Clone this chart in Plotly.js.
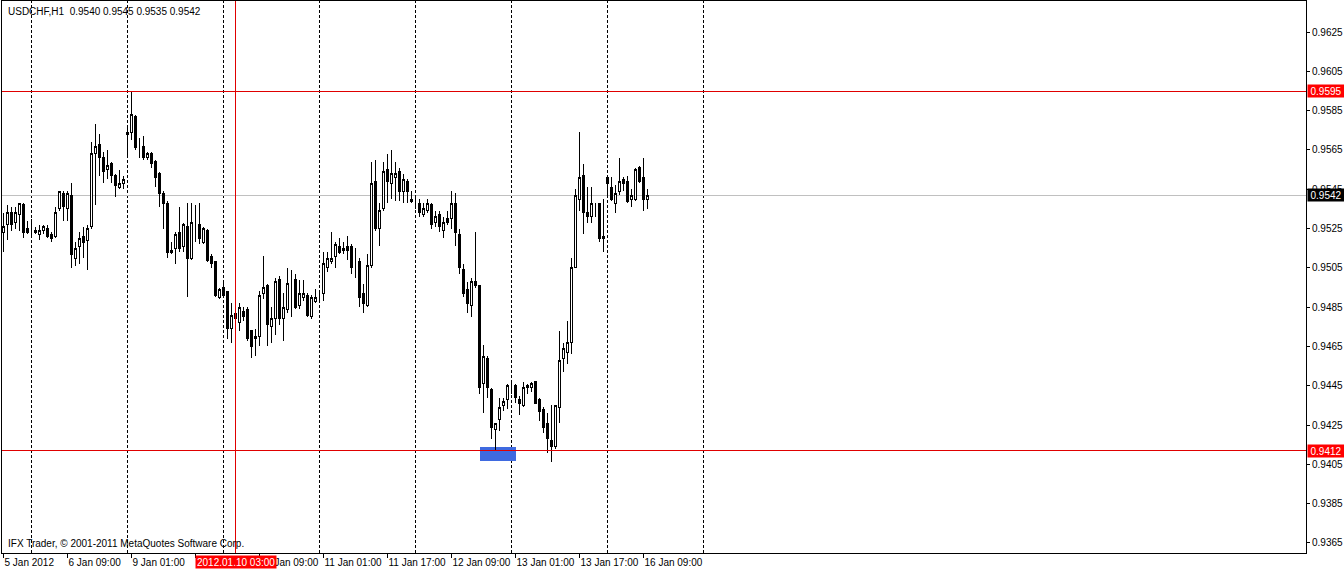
<!DOCTYPE html>
<html><head><meta charset="utf-8">
<script src="https://cdn.plot.ly/plotly-3.0.1.min.js"></script>
<style>
html,body{margin:0;padding:0;background:#fff;}
#chart{width:1344px;height:570px;}
#chart path{shape-rendering:crispEdges;}
</style></head><body>
<div id="chart"></div>
<script>
const headerText = "USDCHF,H1\u00a0\u00a00.9540 0.9545 0.9535 0.9542";
const footerText = "IFX Trader, \u00a9 2001-2011 MetaQuotes Software Corp.";

// hourly bars, index 0 = 5 Jan 2012 17:00
const openP = [0.9523,0.9527,0.9533,0.9528,0.9532,0.9537,0.9525,0.9523,0.9524,0.9522,
0.9524,0.9525,0.9522,0.9521,0.9535,0.9543,0.9535,0.9542,0.9510,0.9516,
0.9521,0.9519,0.9526,0.9563,0.9568,0.9561,0.9555,0.9558,0.9552,0.9546,
0.9548,0.9574,0.9574,0.9582,0.9566,0.9567,0.9561,0.9563,0.9559,0.9553,
0.9543,0.9538,0.9513,0.9515,0.9523,0.9516,0.9526,0.9510,0.9528,0.9527,
0.9518,0.9524,0.9511,0.9508,0.9490,0.9495,0.9493,0.9474,0.9479,0.9477,
0.9483,0.9484,0.9473,0.9469,0.9470,0.9492,0.9496,0.9475,0.9479,0.9499,
0.9479,0.9484,0.9498,0.9499,0.9486,0.9490,0.9491,0.9480,0.9488,0.9491,
0.9492,0.9505,0.9508,0.9511,0.9516,0.9514,0.9516,0.9516,0.9507,0.9508,
0.9492,0.9486,0.9506,0.9549,0.9525,0.9535,0.9555,0.9548,0.9551,0.9554,
0.9544,0.9549,0.9540,0.9538,0.9538,0.9532,0.9534,0.9537,0.9528,0.9532,
0.9524,0.9530,0.9530,0.9538,0.9522,0.9504,0.9494,0.9486,0.9498,0.9496,
0.9446,0.9459,0.9443,0.9423,0.9428,0.9435,0.9438,0.9444,0.9445,0.9438,
0.9435,0.9445,0.9444,0.9447,0.9438,0.9433,0.9426,0.9417,0.9414,0.9434,
0.9459,0.9462,0.9467,0.9505,0.9540,0.9552,0.9533,0.9531,0.9537,0.9538,
0.9521,0.9551,0.9546,0.9538,0.9544,0.9550,0.9549,0.9540,0.9540,0.9556,
0.9551,0.9540];
const highP = [0.9533,0.9537,0.9536,0.9536,0.9538,0.9538,0.9529,0.9530,0.9526,0.9527,
0.9527,0.9527,0.9523,0.9536,0.9544,0.9544,0.9544,0.9548,0.9518,0.9523,
0.9526,0.9527,0.9569,0.9578,0.9573,0.9564,0.9565,0.9559,0.9553,0.9555,
0.9552,0.9576,0.9595,0.9583,0.9571,0.9572,0.9564,0.9564,0.9560,0.9554,
0.9544,0.9539,0.9518,0.9523,0.9536,0.9528,0.9538,0.9538,0.9537,0.9538,
0.9526,0.9525,0.9512,0.9508,0.9495,0.9498,0.9493,0.9487,0.9483,0.9487,
0.9485,0.9485,0.9473,0.9474,0.9493,0.9511,0.9497,0.9485,0.9500,0.9501,
0.9492,0.9505,0.9504,0.9502,0.9499,0.9499,0.9492,0.9491,0.9494,0.9493,
0.9513,0.9513,0.9523,0.9518,0.9520,0.9518,0.9521,0.9517,0.9515,0.9510,
0.9497,0.9512,0.9559,0.9560,0.9538,0.9559,0.9563,0.9565,0.9559,0.9556,
0.9553,0.9550,0.9544,0.9542,0.9540,0.9538,0.9540,0.9538,0.9534,0.9534,
0.9531,0.9534,0.9544,0.9543,0.9525,0.9507,0.9498,0.9500,0.9523,0.9496,
0.9466,0.9460,0.9444,0.9426,0.9439,0.9439,0.9446,0.9448,0.9446,0.9440,
0.9447,0.9446,0.9447,0.9447,0.9439,0.9434,0.9431,0.9435,0.9435,0.9473,
0.9467,0.9478,0.9510,0.9545,0.9574,0.9558,0.9546,0.9546,0.9538,0.9538,
0.9540,0.9551,0.9551,0.9547,0.9561,0.9551,0.9552,0.9545,0.9556,0.9557,
0.9561,0.9545];
const lowP = [0.9513,0.9519,0.9524,0.9525,0.9524,0.9520,0.9522,0.9520,0.9522,0.9519,
0.9522,0.9520,0.9518,0.9520,0.9534,0.9529,0.9529,0.9505,0.9506,0.9507,
0.9510,0.9504,0.9525,0.9537,0.9552,0.9548,0.9550,0.9548,0.9541,0.9545,
0.9545,0.9562,0.9570,0.9565,0.9561,0.9560,0.9560,0.9556,0.9546,0.9536,
0.9525,0.9510,0.9512,0.9507,0.9513,0.9513,0.9490,0.9509,0.9518,0.9517,
0.9517,0.9508,0.9505,0.9490,0.9489,0.9490,0.9469,0.9467,0.9475,0.9473,
0.9478,0.9468,0.9459,0.9460,0.9465,0.9489,0.9465,0.9467,0.9471,0.9476,
0.9468,0.9482,0.9480,0.9484,0.9484,0.9488,0.9480,0.9479,0.9487,0.9488,
0.9488,0.9503,0.9507,0.9505,0.9512,0.9512,0.9509,0.9502,0.9500,0.9485,
0.9482,0.9485,0.9505,0.9524,0.9516,0.9534,0.9538,0.9540,0.9539,0.9539,
0.9538,0.9538,0.9538,0.9535,0.9531,0.9531,0.9533,0.9525,0.9526,0.9523,
0.9520,0.9527,0.9525,0.9516,0.9502,0.9490,0.9482,0.9480,0.9495,0.9441,
0.9431,0.9439,0.9418,0.9412,0.9422,0.9432,0.9433,0.9441,0.9436,0.9430,
0.9434,0.9441,0.9442,0.9436,0.9427,0.9421,0.9411,0.9406,0.9413,0.9426,
0.9452,0.9456,0.9461,0.9505,0.9534,0.9522,0.9528,0.9528,0.9531,0.9518,
0.9513,0.9541,0.9539,0.9533,0.9542,0.9544,0.9538,0.9536,0.9539,0.9548,
0.9534,0.9535];
const closeP = [0.9526,0.9533,0.9527,0.9533,0.9538,0.9523,0.9523,0.9523,0.9523,0.9524,
0.9526,0.9521,0.9520,0.9533,0.9544,0.9536,0.9543,0.9512,0.9515,0.9520,
0.9518,0.9525,0.9563,0.9567,0.9561,0.9554,0.9557,0.9552,0.9547,0.9548,
0.9550,0.9573,0.9583,0.9566,0.9566,0.9561,0.9563,0.9558,0.9551,0.9543,
0.9538,0.9513,0.9514,0.9522,0.9515,0.9527,0.9510,0.9528,0.9528,0.9520,
0.9525,0.9509,0.9507,0.9491,0.9494,0.9491,0.9474,0.9481,0.9482,0.9485,
0.9480,0.9469,0.9465,0.9470,0.9491,0.9495,0.9476,0.9479,0.9498,0.9479,
0.9485,0.9497,0.9498,0.9485,0.9492,0.9492,0.9481,0.9490,0.9490,0.9491,
0.9507,0.9510,0.9510,0.9517,0.9513,0.9515,0.9514,0.9505,0.9507,0.9490,
0.9487,0.9506,0.9548,0.9525,0.9534,0.9554,0.9549,0.9553,0.9553,0.9544,
0.9550,0.9544,0.9539,0.9538,0.9533,0.9535,0.9538,0.9527,0.9531,0.9526,
0.9528,0.9528,0.9538,0.9523,0.9505,0.9492,0.9487,0.9498,0.9496,0.9444,
0.9460,0.9444,0.9424,0.9426,0.9434,0.9437,0.9445,0.9444,0.9439,0.9436,
0.9444,0.9444,0.9446,0.9436,0.9432,0.9424,0.9418,0.9414,0.9435,0.9458,
0.9464,0.9467,0.9505,0.9542,0.9551,0.9533,0.9531,0.9538,0.9537,0.9520,
0.9520,0.9548,0.9540,0.9543,0.9549,0.9548,0.9539,0.9542,0.9555,0.9549,
0.9540,0.9542];

// tick at index 48 (9 Jan 17:00) is fully hidden under the red time marker in the reference
const xTickIdx = [0,16,32,48,64,80,96,112,128,144,160];
const xTickText = ["5 Jan 2012","6 Jan 09:00","9 Jan 01:00","","10 Jan 09:00",
  "11 Jan 01:00","11 Jan 17:00","12 Jan 09:00","13 Jan 01:00","13 Jan 17:00","16 Jan 09:00"];
const yTickVals = [0.9365,0.9385,0.9405,0.9425,0.9445,0.9465,0.9485,0.9505,0.9525,0.9545,0.9565,0.9585,0.9605,0.9625];
const daySeparatorIdx = [7,31,55,79,103,127,151,175];
const levelLines = [0.9595, 0.9412];
const bidPrice = 0.9542;
const markerIdx = 58;
const markerText = "2012.01.10 03:00";
const boxIdx = [119, 128];
const boxPrice = [0.94066, 0.94138];

const FONT = "Tahoma, 'Liberation Sans', Arial, sans-serif";
const xIdx = openP.map((_, i) => i);

const trace = {
  type: 'candlestick',
  x: xIdx, open: openP, high: highP, low: lowP, close: closeP,
  increasing: {line: {color: '#000000', width: 1}, fillcolor: '#ffffff'},
  decreasing: {line: {color: '#000000', width: 1}, fillcolor: '#000000'},
  whiskerwidth: 0,
  hoverinfo: 'skip'
};

const shapes = [];
shapes.push({type:'rect', xref:'x', yref:'y', x0:boxIdx[0], x1:boxIdx[1], y0:boxPrice[0], y1:boxPrice[1],
  fillcolor:'#3f6ae0', line:{width:0}, layer:'below'});
daySeparatorIdx.forEach(d => shapes.push({type:'line', xref:'x', yref:'paper', x0:d, x1:d, y0:0, y1:1,
  line:{color:'#000000', width:1, dash:'3px,2px'}, layer:'below'}));
shapes.push({type:'line', xref:'paper', yref:'y', x0:0, x1:1, y0:bidPrice, y1:bidPrice,
  line:{color:'#c0c0c0', width:1}, layer:'below'});
levelLines.forEach(p => shapes.push({type:'line', xref:'paper', yref:'y', x0:0, x1:1, y0:p, y1:p,
  line:{color:'#e00000', width:1}, layer:'above'}));
shapes.push({type:'line', xref:'x', yref:'paper', x0:markerIdx, x1:markerIdx, y0:0, y1:1,
  line:{color:'#e00000', width:1}, layer:'above'});

const priceTag = (p, bg) => ({xref:'paper', yref:'y', x:1, y:p, xanchor:'left', yanchor:'middle',
  xshift:1, text:p.toFixed(4), showarrow:false, bgcolor:bg, borderpad:1, width:34, height:10, align:'center',
  font:{family:FONT, size:10, color:'#ffffff'}});

const annotations = [
  {xref:'paper', yref:'paper', x:0, y:1, xanchor:'left', yanchor:'top', xshift:4, yshift:-3,
   text:headerText, showarrow:false, font:{family:FONT, size:10, color:'#000'}},
  {xref:'paper', yref:'paper', x:0, y:0, xanchor:'left', yanchor:'bottom', xshift:4, yshift:2,
   text:footerText, showarrow:false, font:{family:FONT, size:10, color:'#000'}},
  priceTag(levelLines[0], '#ff0000'),
  priceTag(levelLines[1], '#ff0000'),
  priceTag(bidPrice, '#000000'),
  {xref:'x', yref:'paper', x:markerIdx, y:0, xanchor:'center', yanchor:'top', yshift:-2,
   text:markerText, showarrow:false, bgcolor:'#ff0000', borderpad:1, height:10,
   font:{family:FONT, size:10, color:'#ffffff'}}
];

const layout = {
  width:1344, height:570,
  margin:{l:2, r:38, t:1, b:17, pad:0},
  paper_bgcolor:'#ffffff', plot_bgcolor:'#ffffff',
  showlegend:false,
  dragmode:false,
  xaxis:{
    range:[-0.375, 325.625], rangeslider:{visible:false}, fixedrange:true,
    showgrid:false, zeroline:false, showline:true, linecolor:'#000', linewidth:1, mirror:true,
    tickmode:'array', tickvals:xTickIdx, ticktext:xTickText, tickangle:0, automargin:false,
    ticks:'outside', ticklen:4, tickwidth:1, tickcolor:'#000',
    ticklabelposition:'outside right',
    tickfont:{family:FONT, size:10, color:'#000'}
  },
  yaxis:{
    range:[0.93599, 0.96408], side:'right', fixedrange:true, automargin:false,
    showgrid:false, zeroline:false, showline:true, linecolor:'#000', linewidth:1, mirror:true,
    tickmode:'array', tickvals:yTickVals, ticktext:yTickVals.map(v => v.toFixed(4)),
    ticks:'outside', ticklen:3, tickwidth:1, tickcolor:'#000',
    tickfont:{family:FONT, size:10, color:'#000'}
  },
  shapes: shapes,
  annotations: annotations
};

Plotly.newPlot('chart', [trace], layout, {staticPlot:true, displayModeBar:false});
</script>
</body></html>
